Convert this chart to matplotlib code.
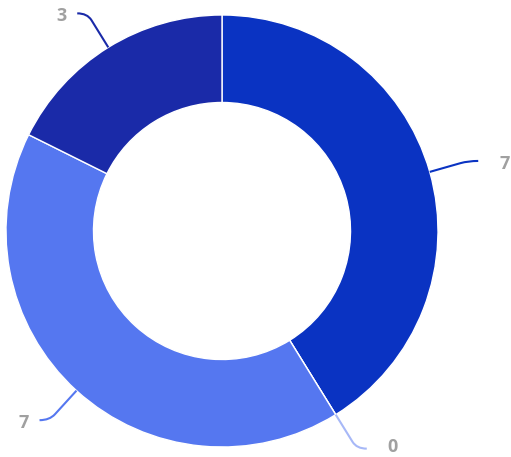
import matplotlib
matplotlib.use("Agg")
import matplotlib.pyplot as plt
import numpy as np
from matplotlib.path import Path
import matplotlib.patches as mpatches

values = [7, 0, 7, 3]
labels = ["7", "0", "7", "3"]
colors = ["#0a33c2", "#2a55e0", "#5577f0", "#1a2aa8"]
line_colors = ["#0a33c2", "#a7b8f7", "#5577f0", "#1a2aa8"]

W, H = 511, 457
fig = plt.figure(figsize=(W / 100, H / 100), dpi=100)
ax = fig.add_axes([0, 0, 1, 1])

cx, cy = 222, H - 231
R = 216
wedges, _ = ax.pie(values, center=(cx, cy), radius=R, startangle=90,
                   counterclock=False, colors=colors,
                   wedgeprops=dict(width=R * 0.405, edgecolor="white", linewidth=1))

# pie resets the limits, so set them afterwards
ax.set_xlim(0, W)
ax.set_ylim(0, H)
ax.set_aspect("equal")
ax.axis("off")

total = float(sum(values))
start = 90.0
for v, lab, lc in zip(values, labels, line_colors):
    ang = start - 360.0 * v / total / 2
    start -= 360.0 * v / total
    a = np.deg2rad(ang)
    x0, y0 = cx + R * np.cos(a), cy + R * np.sin(a)
    x1, y1 = cx + (R + 40) * np.cos(a), cy + (R + 40) * np.sin(a)
    side = 1 if np.cos(a) >= 0 else -1
    x2 = x1 + side * 10
    # small rounded corner
    xm, ym = x0 + (x1 - x0) * 0.8, y0 + (y1 - y0) * 0.8
    path = Path([(x0, y0), (xm, ym), (x1, y1), (x2, y1)],
                [Path.MOVETO, Path.LINETO, Path.CURVE3, Path.CURVE3])
    ax.add_patch(mpatches.PathPatch(path, fill=False, edgecolor=lc, lw=1.5))
    off = 26 if side > 0 else 16
    ty = max(y1 - 3, 10)  # keep the bottom label inside the picture
    ax.text(x2 + side * off, ty, lab, ha="center", va="center",
            fontsize=13, fontweight="bold", color="#a0a0a0", family="Open Sans")

fig.savefig("out.png", dpi=100)
